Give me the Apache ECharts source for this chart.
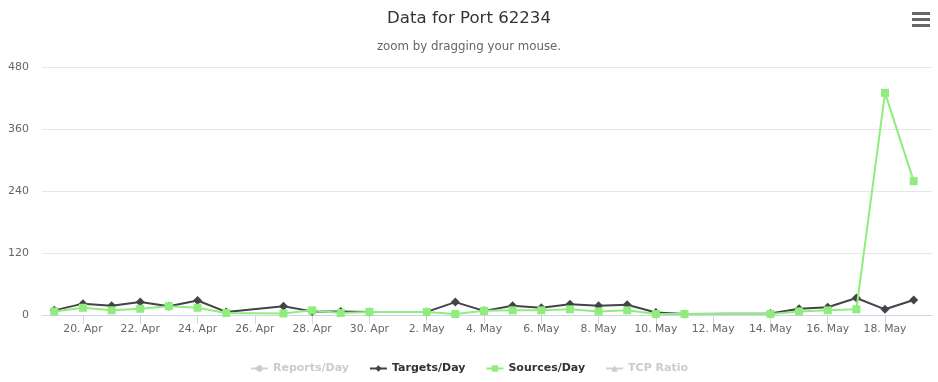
<!DOCTYPE html>
<html><head><meta charset="utf-8">
<script src="https://cdn.jsdelivr.net/npm/echarts@6/dist/echarts.min.js"></script>
<style>html,body{margin:0;padding:0;background:#fff}#c{width:938px;height:382px}</style>
</head><body><div id="c"></div>
<script>
const dates = ['2024-04-19','2024-04-20','2024-04-21','2024-04-22','2024-04-23','2024-04-24','2024-04-25','2024-04-27','2024-04-28','2024-04-29','2024-04-30',
  '2024-05-02','2024-05-03','2024-05-04','2024-05-05','2024-05-06','2024-05-07','2024-05-08','2024-05-09','2024-05-10','2024-05-11','2024-05-14','2024-05-15','2024-05-16','2024-05-17','2024-05-18','2024-05-19'];
const targetsPerDay = [9,22,18,25,17,28,6,17,7,7,6, 6,25,8,18,14,21,18,20,5,2,3,12,15,33,11,29];
const sourcesPerDay = [7,14,9,12,17,14,4,3,9,4,6, 6,2,8,9,9,11,7,9,2,2,2,7,9,11,430,259];
const reportsPerDay = [];
const tcpRatio = [];
const tickDates = ['2024-04-20','2024-04-22','2024-04-24','2024-04-26','2024-04-28','2024-04-30','2024-05-02','2024-05-04','2024-05-06','2024-05-08','2024-05-10','2024-05-12','2024-05-14','2024-05-16','2024-05-18'];
const yTicks = [0,120,240,360,480];
const monthNames = ['Jan','Feb','Mar','Apr','May','Jun','Jul','Aug','Sep','Oct','Nov','Dec'];

const base = Date.UTC(2024,3,19);
function dayIdx(s){const p=s.split('-').map(Number);return (Date.UTC(p[0],p[1]-1,p[2])-base)/864e5;}
function fmt(v){const d=new Date(base+Math.round(v)*864e5);return d.getUTCDate()+'. '+monthNames[d.getUTCMonth()];}
const pts = arr => dates.map((d,i)=>[dayIdx(d),arr[i]]);
const tickPos = tickDates.map(dayIdx);
const font = '"DejaVu Sans", Verdana, sans-serif';

const chart = echarts.init(document.getElementById('c'), null, {renderer:'canvas'});
chart.setOption({
  animation:false,
  textStyle:{fontFamily:font},
  title:[
    {text:'Data for Port 62234', left:'center', top:5, textStyle:{fontSize:16.6, fontWeight:'normal', color:'#333333', fontFamily:font}},
    {text:'zoom by dragging your mouse.', left:'center', top:36, textStyle:{fontSize:11.8, fontWeight:'normal', color:'#666666', fontFamily:font}}
  ],
  graphic:[
    {type:'rect', shape:{x:912,y:12,width:18,height:3}, style:{fill:'#666'}},
    {type:'rect', shape:{x:912,y:18,width:18,height:3}, style:{fill:'#666'}},
    {type:'rect', shape:{x:912,y:24,width:18,height:3}, style:{fill:'#666'}}
  ],
  legend:{
    bottom:3, left:'center', itemGap:20, itemWidth:17, itemHeight:8,
    inactiveColor:'#cccccc',
    textStyle:{fontSize:11, fontWeight:'bold', color:'#333333', fontFamily:font},
    data:['Reports/Day','Targets/Day','Sources/Day','TCP Ratio'],
    selected:{'Reports/Day':false,'TCP Ratio':false}
  },
  grid:{left:42, right:6, top:67, bottom:67, containLabel:false},
  xAxis:{
    type:'value', min:-0.43, max:30.64,
    axisLine:{show:true, lineStyle:{color:'#ccd6eb'}},
    axisTick:{show:true, customValues:tickPos, length:9, lineStyle:{color:'#ccd6eb'}},
    axisLabel:{customValues:tickPos, formatter:fmt, color:'#666666', fontSize:10.8, margin:9, fontFamily:font},
    splitLine:{show:false}
  },
  yAxis:{
    type:'value', min:yTicks[0], max:yTicks[yTicks.length-1], interval:120,
    axisLine:{show:false}, axisTick:{show:false},
    axisLabel:{color:'#666666', fontSize:11, margin:13, fontFamily:font},
    splitLine:{lineStyle:{color:'#e6e6e6'}}
  },
  series:[
    {name:'Reports/Day', type:'line', data:reportsPerDay, symbol:'circle', symbolSize:8, color:'#7cb5ec', lineStyle:{width:2}},
    {name:'Targets/Day', type:'line', data:pts(targetsPerDay), symbol:'diamond', symbolSize:9, color:'#434348', lineStyle:{width:2}, z:2},
    {name:'Sources/Day', type:'line', data:pts(sourcesPerDay), symbol:'rect', symbolSize:8, color:'#90ed7d', lineStyle:{width:2}, z:3},
    {name:'TCP Ratio', type:'line', data:tcpRatio, symbol:'triangle', symbolSize:8, color:'#f7a35c', lineStyle:{width:2}}
  ]
});
</script></body></html>
